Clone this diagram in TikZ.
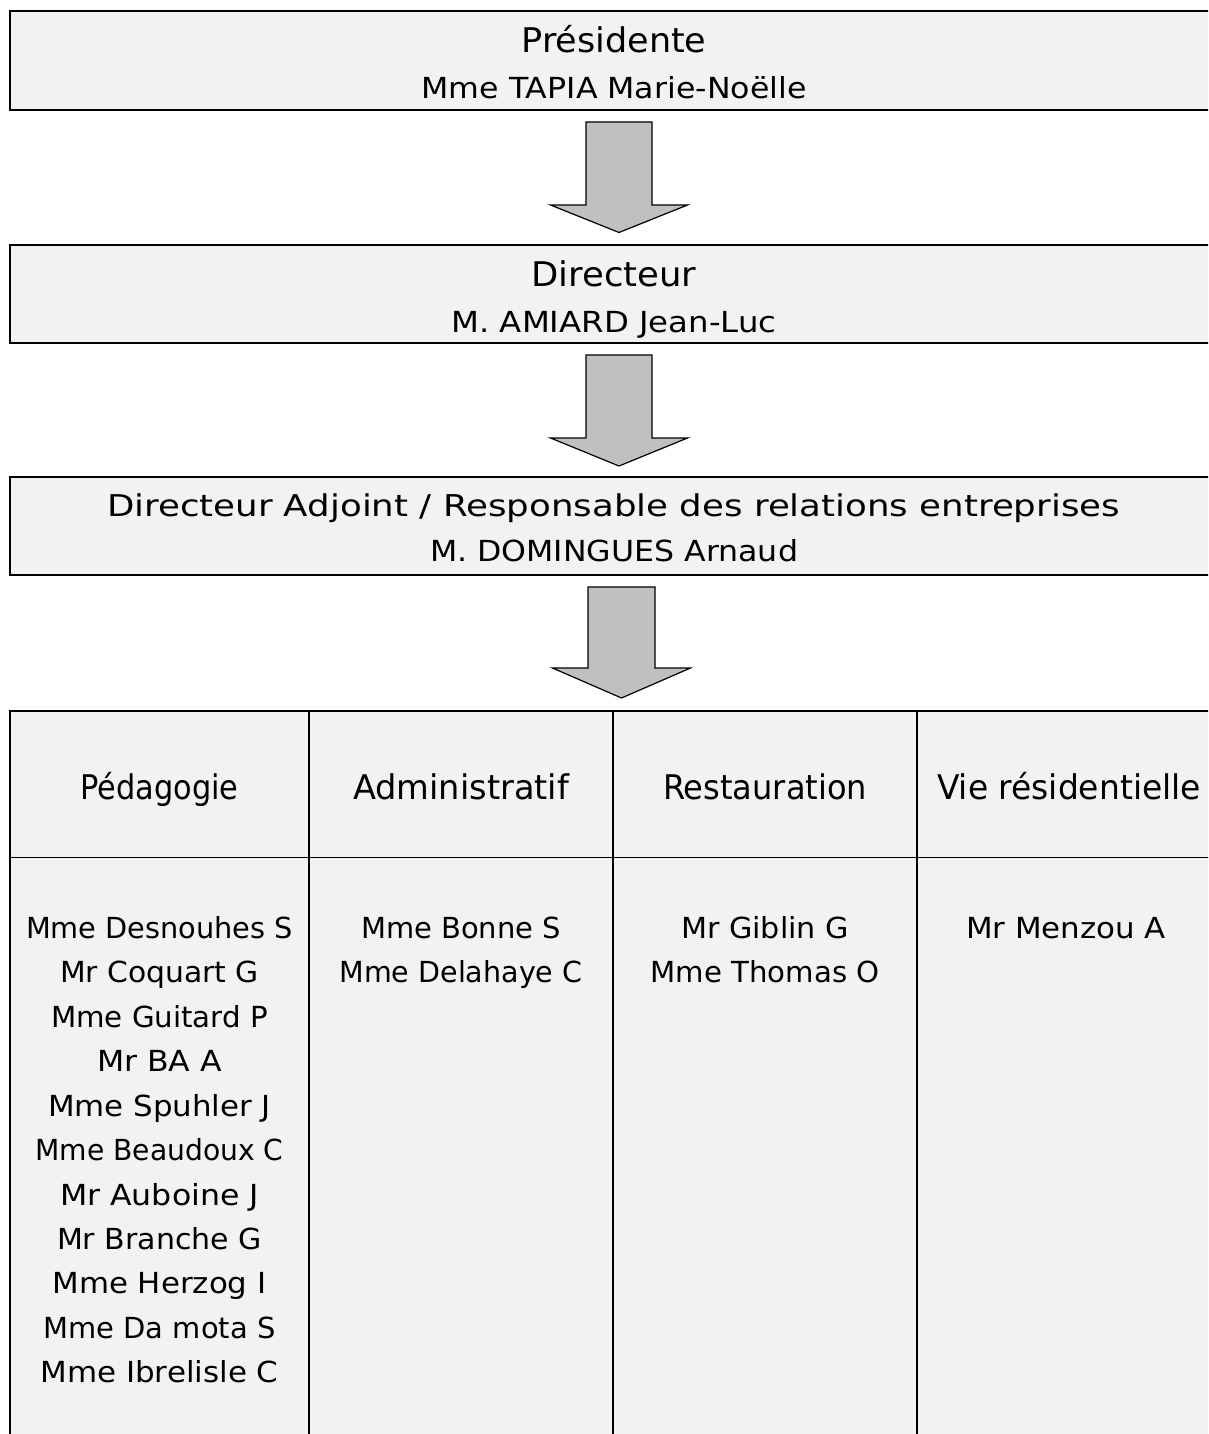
\documentclass[tikz,border=0pt]{standalone}
\usepackage{fontspec}
\setmainfont{DejaVu Sans}
\usepackage{graphicx}
\newlength\fitlen
\newcommand\fitw[2]{\settowidth{\fitlen}{#2}\pgfmathsetmacro\fitr{#1/\fitlen}\scalebox{\fitr}[1]{#2}}
\definecolor{boxgray}{HTML}{F2F2F2}
\definecolor{arrgray}{HTML}{C0C0C0}
\newcommand\blockarrow[6]{% cx, half shaft, half head, top, shoulder, tip
  \draw[arrowshape] ({#1-#2},#4) -- ({#1+#2},#4) -- ({#1+#2},#5) -- ({#1+#3},#5)
    -- (#1,#6) -- ({#1-#3},#5) -- ({#1-#2},#5) -- cycle;}
\begin{document}
\begin{tikzpicture}[x=1pt,y=-1pt,
  orgbox/.style={draw=black, fill=boxgray, line width=2.1pt, rectangle, anchor=north west,
    minimum width=1208pt, inner sep=0pt, outer sep=0pt},
  arrowshape/.style={draw=black, fill=arrgray, line width=1.2pt, line join=miter},
  tableline/.style={draw=black, line width=1.7pt},
  bigtxt/.style={font=\fontsize{34}{40}\selectfont, inner sep=0pt, anchor=base},
  midtxt/.style={font=\fontsize{30}{36}\selectfont, inner sep=0pt, anchor=base},
  nametxt/.style={font=\fontsize{29}{35}\selectfont, inner sep=0pt, anchor=base},
  headtxt/.style={font=\fontsize{34}{40}\selectfont, inner sep=0pt, anchor=base}]
\clip (0,0) rectangle (1208,1434);
\fill[white] (0,0) rectangle (1208,1434);

% boxes
\node[orgbox, minimum height=99pt] (pres) at (10,11) {};
\node[orgbox, minimum height=98pt] (dir) at (10,245) {};
\node[orgbox, minimum height=98pt] (adj) at (10,477) {};

\node[bigtxt] (t1) at (614,52.5) {\fitw{185}{Présidente}};
\node[nametxt] (n1) at (614,98.5) {\fitw{385}{Mme TAPIA Marie-Noëlle}};
\node[bigtxt] (t2) at (614,286.7) {\fitw{165}{Directeur}};
\node[nametxt] (n2) at (614,332.3) {\fitw{325}{M. AMIARD Jean-Luc}};
\node[midtxt] (t3) at (613.5,516.7) {\fitw{1013}{Directeur Adjoint / Responsable des relations entreprises}};
\node[nametxt] (n3) at (614,561.7) {\fitw{368}{M. DOMINGUES Arnaud}};

% block arrows
\blockarrow{619}{33}{68.5}{122}{205}{232.5}
\blockarrow{619}{33}{68.5}{355}{438}{466}
\blockarrow{621.5}{33.5}{69}{587}{668}{698}

% table
\fill[boxgray] (10,711) rectangle (1225,1440);
\draw[tableline] (1225,711) -- (10,711) -- (10,1440);
\draw[tableline] (10,857.5) -- (1225,857.5);
\foreach \cx in {309,613,917} \draw[tableline] (\cx,711) -- (\cx,1440);

\node[headtxt] (h1) at (159.5,799) {\fitw{158}{Pédagogie}};
\node[headtxt] (h2) at (461,799) {\fitw{216}{Administratif}};
\node[headtxt] (h3) at (765,799) {\fitw{204}{Restauration}};
\node[headtxt] (h4) at (1069,799) {\fitw{264}{Vie résidentielle}};

\foreach \t/\w [count=\i from 0] in {Mme Desnouhes S/267, Mr Coquart G/199, Mme Guitard P/217,
  Mr BA A/125, Mme Spuhler J/223, Mme Beaudoux C/248, Mr Auboine J/199, Mr Branche G/205,
  Mme Herzog I/214, Mme Da mota S/232, Mme Ibrelisle C/238}
  \node[nametxt] (pa\i) at (159.5,{938.3+44.45*\i}) {\fitw{\w}{\t}};

\foreach \t/\w [count=\i from 0] in {Mme Bonne S/200, Mme Delahaye C/243}
  \node[nametxt] (pb\i) at (461,{938.3+44.45*\i}) {\fitw{\w}{\t}};

\foreach \t/\w [count=\i from 0] in {Mr Giblin G/168, Mme Thomas O/229}
  \node[nametxt] (pc\i) at (765,{938.3+44.45*\i}) {\fitw{\w}{\t}};

\node[nametxt] (pd0) at (1066,938.3) {\fitw{200}{Mr Menzou A}};
\end{tikzpicture}
\end{document}
